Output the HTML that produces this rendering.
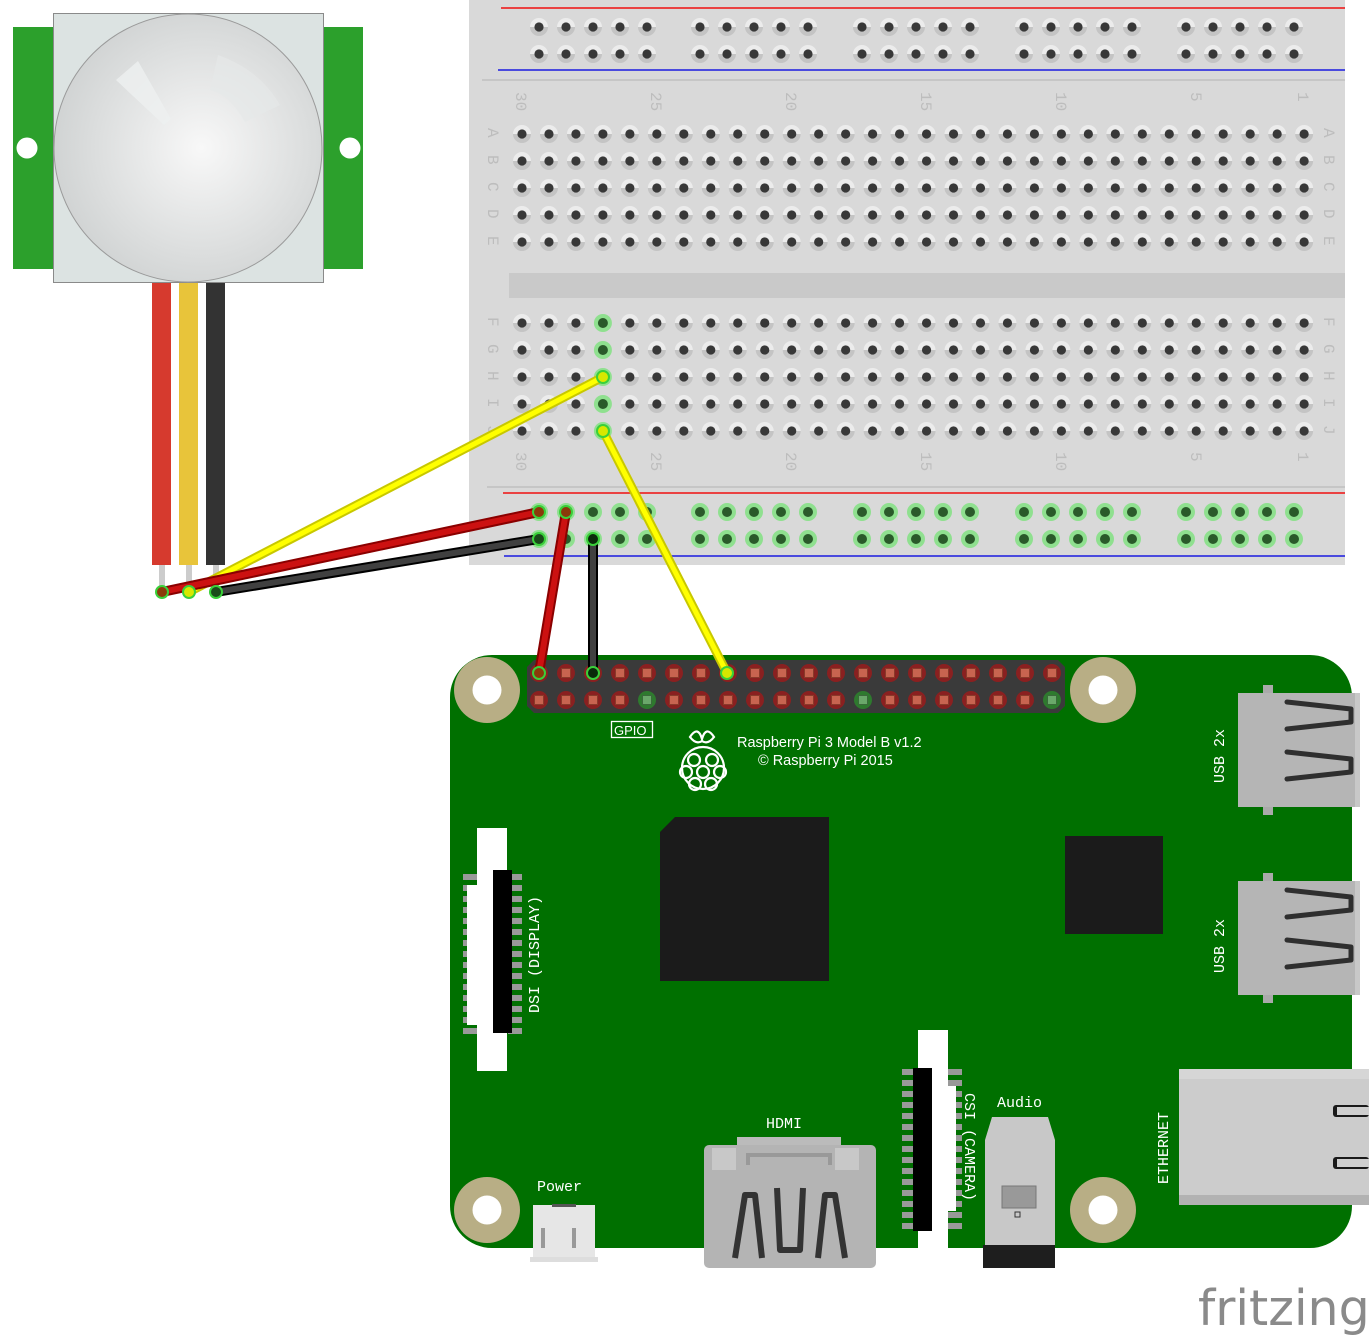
<!DOCTYPE html>
<html><head><meta charset="utf-8">
<style>
html,body{margin:0;padding:0;background:#fff;}
svg{display:block;}
text{font-family:"Liberation Mono","DejaVu Sans Mono",monospace;}
</style></head>
<body>
<svg id="s" xmlns="http://www.w3.org/2000/svg" width="1371" height="1338" viewBox="0 0 1371 1338">
<defs>
<linearGradient id="hole" x1="0" y1="0" x2="0" y2="1">
<stop offset="0.5" stop-color="#ececec"/><stop offset="0.5" stop-color="#c4c4c4"/>
</linearGradient>
<radialGradient id="dome" cx="0.55" cy="0.5" r="0.6">
<stop offset="0" stop-color="#f8f8f8"/><stop offset="1" stop-color="#cdd0d0"/>
</radialGradient>
</defs>
<!-- PIR sensor -->
<rect x="13" y="27" width="350" height="242" fill="#2ca02c"/>
<circle cx="27" cy="148" r="10.5" fill="#fff"/>
<circle cx="350" cy="148" r="10.5" fill="#fff"/>
<rect x="53.5" y="13.5" width="270" height="269" fill="#dce3e2" stroke="#8a8a8a"/>
<circle cx="188" cy="148" r="134" fill="url(#dome)" stroke="#9a9a9a"/>
<polygon points="116,80 138,61 171,119 164,125" fill="#eef0f0" opacity="0.8"/>
<path d="M218,55 Q260,70 280,105 L245,122 Q230,95 210,90 Z" fill="#e6e8e8" opacity="0.7"/>
<rect x="152" y="283" width="19" height="282" fill="#d63a2e"/>
<rect x="179" y="283" width="19" height="282" fill="#e8c43a"/>
<rect x="206" y="283" width="19" height="282" fill="#333"/>
<rect x="159" y="565" width="6" height="27" fill="#ccc"/>
<rect x="186" y="565" width="6" height="27" fill="#ccc"/>
<rect x="213" y="565" width="6" height="27" fill="#ccc"/>

<!-- Breadboard -->
<rect x="469" y="0" width="876" height="565" fill="#d9d9d9"/>
<line x1="501" y1="8" x2="1345" y2="8" stroke="#f01010" stroke-width="1.5"/>
<line x1="498" y1="70" x2="1345" y2="70" stroke="#1a1ae0" stroke-width="1.5"/>
<line x1="482" y1="80" x2="1345" y2="80" stroke="#b4b4b4" stroke-width="1"/>
<line x1="487" y1="487" x2="1345" y2="487" stroke="#b4b4b4" stroke-width="1"/>
<line x1="503" y1="493" x2="1345" y2="493" stroke="#f01010" stroke-width="1.5"/>
<line x1="504" y1="556" x2="1345" y2="556" stroke="#1a1ae0" stroke-width="1.5"/>
<rect x="509" y="273" width="836" height="25" fill="#c9c9c9"/>
<g id="holes"></g>
<g id="bblabels" fill="#bdbdbd" font-size="16"></g>

<!-- Raspberry Pi -->
<rect x="450" y="655" width="902" height="593" rx="42" fill="#007000"/>
<g id="mh"></g>
<path d="M534,660 H1058 L1065,667 V706 L1058,713 H534 L527,706 V667 Z" fill="#3a3a3a"/>
<g id="gpio"></g>
<rect x="611.5" y="721.5" width="41" height="16" fill="none" stroke="#fff" stroke-width="1.3"/>
<text x="614" y="735" fill="#fff" font-size="13" style="font-family:'Liberation Sans',sans-serif">GPIO</text>
<g fill="none" stroke="#fff" stroke-width="2.2">
<path d="M690,737 q8,-12 12,2 q4,-14 12,-2 q-6,8 -12,4 q-6,4 -12,-4z"/>
<circle cx="703" cy="768" r="21"/>
<circle cx="694" cy="760" r="6"/><circle cx="712" cy="760" r="6"/>
<circle cx="686" cy="772" r="6"/><circle cx="703" cy="772" r="6"/><circle cx="720" cy="772" r="6"/>
<circle cx="695" cy="784" r="6"/><circle cx="711" cy="784" r="6"/>
</g>
<text x="737" y="747" fill="#fff" font-size="14.5" style="font-family:'Liberation Sans','DejaVu Sans',sans-serif">Raspberry Pi 3 Model B v1.2</text>
<text x="758" y="765" fill="#fff" font-size="14.5" style="font-family:'Liberation Sans','DejaVu Sans',sans-serif">© Raspberry Pi 2015</text>
<polygon points="675,817 829,817 829,981 660,981 660,832" fill="#1b1b1b"/>
<rect x="1065" y="836" width="98" height="98" fill="#1b1b1b"/>

<!-- USB -->
<g id="usb"></g>
<text transform="translate(1224,783) rotate(-90)" fill="#fff" font-size="15">USB 2x</text>
<text transform="translate(1224,973) rotate(-90)" fill="#fff" font-size="15">USB 2x</text>
<!-- Ethernet -->
<rect x="1179" y="1069" width="190" height="136" fill="#cccccc"/>
<rect x="1179" y="1069" width="190" height="10" fill="#d6d6d6"/>
<rect x="1179" y="1195" width="190" height="10" fill="#b2b2b2"/>
<rect x="1333" y="1105" width="36" height="12" rx="3" fill="#1a1a1a"/><rect x="1337" y="1107" width="32" height="8" fill="#cfcfcf"/>
<rect x="1333" y="1157" width="36" height="12" rx="3" fill="#1a1a1a"/><rect x="1337" y="1159" width="32" height="8" fill="#cfcfcf"/>
<text transform="translate(1168,1184) rotate(-90)" fill="#fff" font-size="15">ETHERNET</text>

<!-- DSI -->
<g id="dsi"></g>
<rect x="477" y="828" width="30" height="243" fill="#fff"/>
<rect x="493" y="870" width="19" height="163" fill="#000"/>
<text transform="translate(539,1013) rotate(-90)" fill="#fff" font-size="15">DSI (DISPLAY)</text>
<!-- CSI -->
<g id="csi"></g>
<rect x="918" y="1030" width="30" height="218" fill="#fff"/>
<rect x="913" y="1068" width="19" height="163" fill="#000"/>
<text transform="translate(965,1093) rotate(90)" fill="#fff" font-size="15">CSI (CAMERA)</text>
<!-- Audio -->
<text x="997" y="1107" fill="#fff" font-size="15">Audio</text>
<polygon points="992,1117 1048,1117 1055,1140 1055,1248 985,1248 985,1140" fill="#c8c8c8"/>
<rect x="983" y="1245" width="72" height="23" fill="#1e1e1e"/>
<rect x="1002" y="1186" width="34" height="22" fill="#999" stroke="#777"/>
<rect x="1015" y="1212" width="5" height="5" fill="none" stroke="#333"/>
<!-- HDMI -->
<text x="766" y="1128" fill="#fff" font-size="15">HDMI</text>
<rect x="737" y="1137" width="104" height="9" fill="#bbb"/>
<rect x="704" y="1145" width="172" height="123" rx="5" fill="#b4b4b4"/>
<rect x="712" y="1148" width="24" height="22" fill="#c8c8c8"/><rect x="835" y="1148" width="24" height="22" fill="#c8c8c8"/>
<path d="M748,1165 V1155 H830 V1165" fill="none" stroke="#999" stroke-width="4"/>
<g fill="none" stroke="#333" stroke-width="6" stroke-linejoin="round">
<path d="M735,1258 L745,1195 H755 L762,1258"/>
<path d="M777,1188 L780,1250 H800 L803,1188"/>
<path d="M818,1258 L825,1195 H835 L845,1258"/>
</g>
<!-- Power -->
<text x="537" y="1191" fill="#fff" font-size="15">Power</text>
<rect x="533" y="1205" width="62" height="52" fill="#e6e6e6"/>
<rect x="552" y="1204" width="24" height="3" fill="#555"/>
<rect x="530" y="1257" width="68" height="5" fill="#ddd"/>
<rect x="541" y="1228" width="4" height="20" fill="#999"/><rect x="572" y="1228" width="4" height="20" fill="#999"/>

<!-- wires -->
<g stroke-linecap="round" fill="none">
<line x1="189" y1="592" x2="603" y2="377" stroke="#c8c800" stroke-width="9"/>
<line x1="189" y1="592" x2="603" y2="377" stroke="#ffff00" stroke-width="5"/>
<line x1="603" y1="431" x2="727" y2="673" stroke="#c8c800" stroke-width="9"/>
<line x1="603" y1="431" x2="727" y2="673" stroke="#ffff00" stroke-width="5"/>
<line x1="162" y1="592" x2="539" y2="512" stroke="#8a0000" stroke-width="10"/>
<line x1="162" y1="592" x2="539" y2="512" stroke="#cc1111" stroke-width="6"/>
<line x1="566" y1="512" x2="539" y2="673" stroke="#8a0000" stroke-width="10"/>
<line x1="566" y1="512" x2="539" y2="673" stroke="#cc1111" stroke-width="6"/>
<line x1="216" y1="592" x2="539" y2="539" stroke="#000" stroke-width="10"/>
<line x1="216" y1="592" x2="539" y2="539" stroke="#404040" stroke-width="6"/>
<line x1="593" y1="539" x2="593" y2="673" stroke="#000" stroke-width="10"/>
<line x1="593" y1="539" x2="593" y2="673" stroke="#404040" stroke-width="6"/>
</g>
<g stroke="#3ad03a" stroke-width="2">
<circle cx="162" cy="592" r="6" fill="#8a3a0a"/>
<circle cx="189" cy="592" r="6" fill="#d8e800"/>
<circle cx="216" cy="592" r="6" fill="#1a4a1a"/>
<circle cx="603" cy="377" r="6" fill="#d8e800"/>
<circle cx="603" cy="431" r="6" fill="#d8e800"/>
<circle cx="727" cy="673" r="6" fill="#d8e800"/>
<circle cx="539" cy="512" r="6" fill="#8a3a0a"/>
<circle cx="566" cy="512" r="6" fill="#8a3a0a"/>
<circle cx="539" cy="673" r="6" fill="#8a3a0a"/>
<circle cx="539" cy="539" r="6" fill="#1a4a1a"/>
<circle cx="593" cy="539" r="6" fill="#0a2a0a"/>
<circle cx="593" cy="673" r="6" fill="#0a2a0a"/>
</g>
<text x="1198" y="1325" fill="#8a8a8a" font-size="49" style="font-family:'DejaVu Sans',sans-serif">fritzing</text>
</svg>
<script>
var NS="http://www.w3.org/2000/svg";
function el(p,t,a){var e=document.createElementNS(NS,t);for(var k in a)e.setAttribute(k,a[k]);p.appendChild(e);return e;}
var H=document.getElementById("holes");
function hole(x,y,g){
 if(g){el(H,"circle",{cx:x,cy:y,r:9,fill:"#8fe08f"});el(H,"circle",{cx:x,cy:y,r:5,fill:"#2a5a2a"});}
 else{el(H,"circle",{cx:x,cy:y,r:9,fill:"url(#hole)"});el(H,"circle",{cx:x,cy:y,r:4.6,fill:"#383838"});}
}
var gs=[539,700,862,1024,1186];
gs.forEach(function(g){for(var i=0;i<5;i++){var x=g+27*i;hole(x,27,0);hole(x,54,0);hole(x,512,1);hole(x,539,1);}});
var rows=[134,161,188,215,242,323,350,377,404,431];
for(var c=0;c<30;c++){var x=522+c*26.97;rows.forEach(function(y,ri){hole(x,y,(c==3&&ri>=5));});}
var L=document.getElementById("bblabels");
var nums=[["30",522],["25",657],["20",792],["15",927],["10",1062],["5",1197],["1",1304]];
nums.forEach(function(n){[92,452].forEach(function(y){var t=el(L,"text",{transform:"translate("+(n[1]-6)+","+y+") rotate(90)"});t.textContent=n[0];});});
"ABCDEFGHIJ".split("").forEach(function(ch,i){[488,1324].forEach(function(x){var t=el(L,"text",{transform:"translate("+x+","+(rows[i]-6)+") rotate(90)"});t.textContent=ch;});});
var M=document.getElementById("mh");
[[487,690],[1103,690],[487,1210],[1103,1210]].forEach(function(p){el(M,"circle",{cx:p[0],cy:p[1],r:33,fill:"#b8ae85"});el(M,"circle",{cx:p[0],cy:p[1],r:14.5,fill:"#fff"});});
var G=document.getElementById("gpio");
var top="RGGRRRGGRGRRRRRGGRRR",bot="RRRRGRRRRRRRGRRRRRRG";
for(var i=0;i<20;i++){var x=539+27*i;[[673,top[i]],[700,bot[i]]].forEach(function(q){var gr=q[1]=="G";
 el(G,"circle",{cx:x,cy:q[0],r:9,fill:gr?"#2e7a2e":"#8a2020"});
 el(G,"rect",{x:x-4.5,y:q[0]-4.5,width:9,height:9,fill:gr?"#6aa86a":"#c86450",stroke:gr?"#3a6a3a":"#8a3a2a"});});}
var U=document.getElementById("usb");
[693,881].forEach(function(y){
 el(U,"rect",{x:1263,y:y-8,width:10,height:10,fill:"#aaa"});el(U,"rect",{x:1263,y:y+112,width:10,height:10,fill:"#aaa"});
 el(U,"rect",{x:1238,y:y,width:122,height:114,fill:"#b5b5b5"});
 el(U,"rect",{x:1355,y:y,width:5,height:114,fill:"#c8c8c8"});
 [0,50].forEach(function(d){el(U,"path",{d:"M1287,"+(y+9+d)+" L1351,"+(y+16+d)+" L1351,"+(y+29+d)+" L1287,"+(y+36+d),fill:"none",stroke:"#2f2f2f","stroke-width":5,"stroke-linejoin":"round","stroke-linecap":"round"});});
});
var D=document.getElementById("dsi");
for(var y=874;y<1035;y+=11){el(D,"rect",{x:463,y:y,width:14,height:6,fill:"#999"});el(D,"rect",{x:508,y:y,width:14,height:6,fill:"#999"});}
el(D,"rect",{x:467,y:885,width:12,height:140,fill:"#fff"});
var C=document.getElementById("csi");
for(var y=1069;y<1232;y+=11){el(C,"rect",{x:902,y:y,width:14,height:6,fill:"#999"});el(C,"rect",{x:946,y:y,width:16,height:6,fill:"#999"});}
el(C,"rect",{x:946,y:1086,width:10,height:125,fill:"#fff"});
</script>
</body></html>
